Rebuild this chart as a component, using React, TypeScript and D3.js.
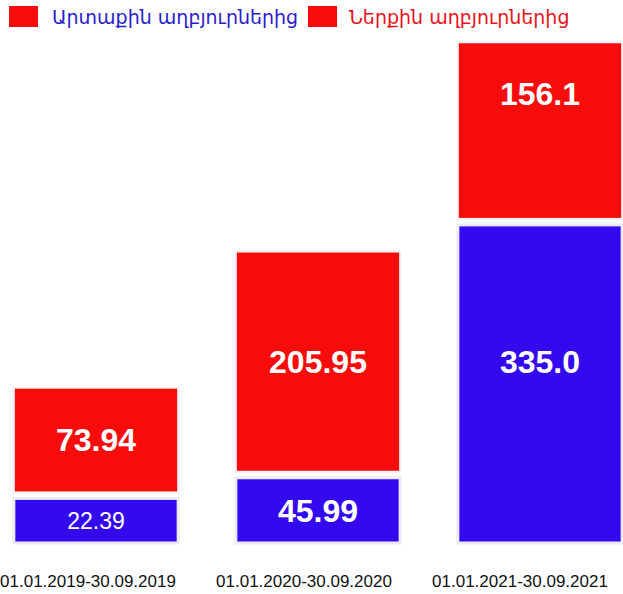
import React from 'react';
import * as d3 from 'd3';

const periods = ['01.01.2019-30.09.2019', '01.01.2020-30.09.2020', '01.01.2021-30.09.2021'];
const externalVals = [22.39, 45.99, 335.0];
const internalVals = [73.94, 205.95, 156.1];
const externalLabels = ['22.39', '45.99', '335.0'];
const internalLabels = ['73.94', '205.95', '156.1'];
const legendNames = ['Արտաքին աղբյուրներից', 'Ներքին աղբյուրներից'];

const W = 623;
const H = 594;
const RED = '#f80b0b';
const BLUE = '#3309ee';

export default function App() {
  const x = d3.scaleBand<string>().domain(periods).range([-15, 651]).paddingInner(0.26).paddingOuter(0.13);
  const xLabel = d3.scalePoint<string>().domain(periods).range([88, 520]);

  // the picture is not to scale: each segment has a constant minimum height
  const hBlue = d3.scaleLinear().domain([0, 350]).range([25, 25 + 0.875 * 350]);
  const hRed = d3.scaleLinear().domain([0, 350]).range([40, 40 + 0.875 * 350]);
  const base = 543;
  const gap = 6;

  const bars = periods.map((p, i) => {
    const bh = hBlue(externalVals[i]);
    const rh = hRed(internalVals[i]);
    const blueTop = base - bh;
    const redTop = blueTop - gap - rh;
    return { p, i, bh, rh, blueTop, redTop };
  });

  // last bar places its labels higher than centre
  const redFrac = [0.5, 0.5, 0.29];
  const blueFrac = [0.5, 0.5, 0.43];

  return (
    <svg width={W} height={H} style={{ position: 'absolute', left: 0, top: 0, background: '#fff' }}>
      <rect width={W} height={H} fill="#fff" />
      <g className="bars">
        {bars.map(b => (
          <g key={b.p}>
            <rect x={x(b.p)} y={b.redTop} width={x.bandwidth()} height={b.rh} fill={RED}
              stroke="#f2eef2" strokeWidth={2} />
            <rect x={x(b.p)} y={b.blueTop} width={x.bandwidth()} height={b.bh} fill={BLUE}
              stroke="#ecebf5" strokeWidth={3} />
            <text x={x(b.p)! + x.bandwidth() / 2} y={b.redTop + b.rh * redFrac[b.i]} dy="0.35em"
              textAnchor="middle" fill="#fff" fontFamily="Liberation Sans, Arial, sans-serif"
              fontWeight="bold" fontSize={32}>{internalLabels[b.i]}</text>
            <text x={x(b.p)! + x.bandwidth() / 2} y={b.blueTop + b.bh * blueFrac[b.i]} dy="0.35em"
              textAnchor="middle" fill="#fff" fontFamily="Liberation Sans, Arial, sans-serif"
              fontWeight={b.i === 0 ? 'normal' : 'bold'} fontSize={b.i === 0 ? 23 : 32}>{externalLabels[b.i]}</text>
          </g>
        ))}
      </g>
      <g className="axis">
        {periods.map(p => (
          <text key={p} x={xLabel(p)} y={587} textAnchor="middle" fill="#111"
            fontFamily="Liberation Sans, Arial, sans-serif" fontSize={17}>{p}</text>
        ))}
      </g>
      <g className="legend">
        <rect x={9} y={6} width={29} height={21} fill={RED} />
        <text x={52} y={24} fill="#2a1ccc" fontFamily="DejaVu Sans, sans-serif" fontSize={19}>{legendNames[0]}</text>
        <rect x={308} y={6} width={29} height={21} fill={RED} />
        <text x={349} y={24} fill="#e8131b" fontFamily="DejaVu Sans, sans-serif" fontSize={19}>{legendNames[1]}</text>
      </g>
    </svg>
  );
}
